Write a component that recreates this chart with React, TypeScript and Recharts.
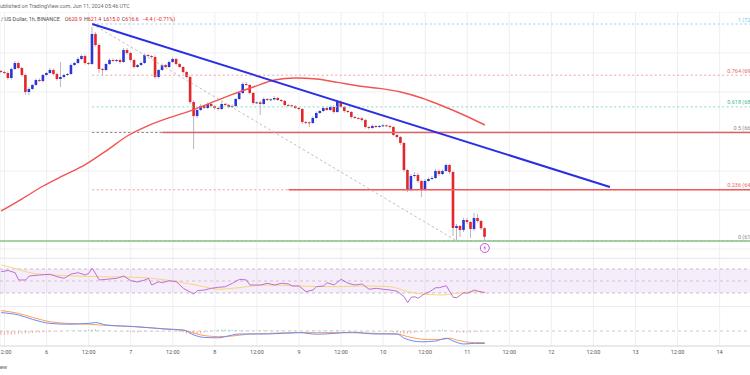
import React from "react";
import {
  ComposedChart,
  Bar,
  Line,
  Scatter,
  XAxis,
  YAxis,
  CartesianGrid,
  ReferenceLine,
  ReferenceArea,
  ReferenceDot,
  Cell,
} from "recharts";

// hourly candles, hour 0 = day 5 12:00
const firstHour = -1;
const firstOpen = 699.5;
const closes = [
  699.0, 698.5, 696.0, 700.5, 703.5, 701.0, 697.5, 689.0, 690.5, 692.5, 695.0, 694.5,
  697.5, 698.5, 700.0, 698.0, 695.5, 696.5, 697.5, 698.0, 702.5, 703.5, 705.5, 707.0,
  703.5, 703.0, 718.0, 712.5, 700.5, 700.0, 703.0, 705.0, 704.5, 705.0, 704.0, 710.0,
  708.5, 705.0, 701.5, 702.5, 703.5, 707.5, 707.0, 706.5, 696.5, 700.0, 702.5, 701.5,
  704.0, 705.5, 703.0, 701.5, 699.0, 696.5, 684.0, 677.0, 680.0, 682.0, 681.0, 683.0,
  682.0, 681.0, 680.5, 683.0, 682.5, 681.5, 682.0, 685.5, 688.5, 693.0, 692.5, 688.5,
  683.5, 683.8, 683.0, 685.5, 685.0, 685.3, 686.0, 685.0, 684.5, 682.5, 682.3, 682.0,
  681.0, 680.5, 674.0, 673.8, 673.5, 676.0, 678.5, 679.5, 681.0, 680.0, 681.5, 679.0,
  684.0, 681.5, 679.5, 679.0, 676.5, 676.0, 675.8, 675.0, 671.5, 671.0, 672.0, 671.5,
  672.0, 672.3, 672.0, 671.5, 667.5, 666.5, 663.5, 650.0, 640.0, 647.0, 647.5, 644.5,
  640.5, 644.5, 645.5, 646.0, 649.5, 648.0, 649.5, 652.5, 649.0, 621.0, 622.0, 620.0,
  625.0, 624.0, 620.5, 626.0, 624.5, 620.9, 616.6,
];
const wickUp = [
  0.5, 0.5, 0.8, 0.8, 1.0, 0.8, 0.5, 0.8, 0.8, 0.5, 0.8, 0.8,
  0.5, 0.5, 1.0, 0.8, 0.8, 7.5, 0.8, 0.5, 0.8, 0.5, 1.0, 0.8,
  0.8, 0.5, 3.5, 1.0, 0.8, 0.5, 0.5, 0.8, 0.8, 0.5, 0.8, 1.0,
  1.0, 0.5, 0.5, 0.5, 0.8, 0.8, 0.5, 0.5, 0.8, 0.5, 0.8, 0.5,
  0.8, 0.8, 0.5, 0.5, 0.5, 0.5, 0.8, 0.8, 0.5, 1.0, 0.5, 0.8,
  0.8, 0.5, 0.5, 0.8, 0.5, 0.5, 0.8, 0.5, 0.5, 1.0, 1.0, 0.5,
  0.5, 0.5, 0.8, 0.8, 0.5, 0.5, 0.8, 0.5, 0.5, 0.5, 0.5, 0.5,
  0.5, 0.5, 0.5, 0.5, 0.5, 0.8, 0.8, 0.5, 0.8, 0.5, 0.8, 0.8,
  1.0, 0.8, 0.5, 0.5, 0.5, 0.5, 0.5, 0.5, 0.5, 0.5, 0.8, 0.5,
  0.5, 0.8, 0.5, 0.5, 0.5, 0.5, 0.5, 0.5, 0.5, 1.0, 1.5, 1.0,
  0.5, 1.0, 0.8, 1.0, 1.0, 0.8, 0.8, 0.8, 0.5, 0.5, 1.0, 0.5,
  1.0, 1.0, 0.5, 2.5, 2.0, 0.5, 0.5,
];
const wickDown = [
  0.5, 0.5, 0.8, 0.8, 0.5, 0.5, 0.8, 1.5, 1.5, 0.5, 0.5, 0.5,
  0.8, 0.5, 0.5, 0.8, 0.8, 4.0, 0.8, 0.5, 0.5, 0.5, 0.5, 0.5,
  0.8, 0.5, 0.5, 0.8, 2.0, 2.5, 0.5, 0.5, 0.5, 0.5, 0.8, 0.5,
  0.8, 0.8, 0.8, 0.5, 0.5, 0.5, 0.5, 0.8, 1.0, 0.8, 0.5, 0.5,
  0.5, 0.5, 0.8, 0.5, 0.8, 0.8, 1.0, 16.5, 1.0, 0.5, 0.5, 0.5,
  0.5, 0.8, 0.8, 0.5, 0.5, 0.5, 0.5, 0.5, 0.5, 0.5, 0.5, 0.8,
  0.8, 0.5, 5.5, 0.5, 0.5, 0.5, 0.5, 0.5, 0.5, 0.8, 0.5, 0.5,
  0.5, 0.8, 1.0, 1.0, 2.0, 0.5, 0.5, 0.5, 0.5, 0.5, 0.5, 0.8,
  0.5, 0.5, 0.8, 0.5, 0.8, 0.5, 0.5, 0.8, 0.8, 0.8, 0.5, 0.5,
  0.5, 0.5, 0.5, 0.8, 0.5, 0.8, 1.0, 1.0, 1.0, 0.8, 0.8, 1.0,
  4.0, 0.8, 0.5, 0.5, 0.5, 0.8, 0.5, 0.5, 1.0, 4.0, 6.0, 3.5,
  1.0, 1.0, 4.5, 1.0, 0.8, 0.8, 1.6,
];

// moving average (red curve)
const maHours = [-1, 5, 11, 17, 23, 29, 35, 41, 47, 53, 59, 65, 71, 77, 83, 89, 95, 101, 107, 113, 119, 125, 131, 137];
const maValues = [629.5, 635.6, 642.0, 647.4, 652.7, 659.6, 667.0, 672.2, 676.2, 679.6, 683.7, 687.8, 691.5, 695.0, 696.0, 695.5, 693.8, 692.0, 690.8, 689.0, 686.0, 682.0, 677.5, 672.5];

// RSI pane
const rsiHours = [-1, 1, 3, 4, 6, 7, 10, 13, 15, 17, 19, 21, 23, 24, 25, 26, 27, 29, 32, 34, 36, 38, 40, 41, 42, 44, 45, 47, 49, 51, 54, 55, 57, 59, 61, 63, 65, 67, 69, 70, 73, 75, 77, 79, 81, 82, 84, 86, 88, 89, 91, 92, 94, 96, 98, 100, 102, 104, 106, 108, 110, 112, 114, 115, 116, 117, 118, 120, 121, 123, 124, 126, 128, 129, 131, 132, 134, 135, 137];
const rsiValues = [65.5, 67.5, 63.8, 51.7, 51.7, 58.3, 60, 61.2, 57.2, 54.5, 61.7, 63.8, 60, 62.8, 71.2, 61.7, 51.7, 52.8, 54.5, 58.3, 50.5, 48.3, 51.7, 54.5, 43.3, 48.8, 47.2, 50.5, 48.8, 37.8, 28.3, 33.8, 35, 37.8, 39.5, 40.5, 46.2, 52.8, 51.7, 43.3, 43.3, 46.2, 43.3, 46.2, 45, 41.7, 41.7, 32.2, 35, 40.5, 41.7, 47.2, 43.3, 52.8, 46.2, 43.3, 45, 36.2, 37.8, 36.2, 35, 33, 23.8, 13.8, 22.8, 23.8, 21.2, 29.5, 31.2, 38.8, 38.8, 42.2, 22.8, 22.2, 30.5, 29.5, 35, 33.3, 30.5];
const rsiMaHours = [-1, 4, 8, 18, 27, 37, 46, 56, 61, 65, 75, 84, 94, 103, 110, 115, 120, 125, 129, 134, 137];
const rsiMaValues = [76.7, 69.5, 62.8, 58.8, 57.2, 56.2, 51.7, 41.7, 36.2, 37.8, 43.3, 41.7, 40.5, 41.7, 40.5, 32.2, 27.8, 26.7, 29.5, 32.2, 31.2];

// MACD pane
const macdHours = [-1, 4, 8, 13, 18, 24, 26, 29, 37, 46, 51, 54, 57, 61, 63, 67, 75, 84, 89, 94, 99, 106, 112, 114, 119, 123, 126, 128, 131, 134, 137];
const macdValues = [4.6, 4.0, 2.9, 1.9, 1.7, 1.9, 2.1, 1.5, 1.1, 0.5, 0.25, -1, -1.6, -1.7, -1.4, -0.75, -0.75, -0.4, -0.8, -0.6, -0.3, -0.75, -0.75, -1.8, -2.7, -2.5, -1.8, -2.5, -3.25, -3.1, -3.1];
const signalHours = [-1, 4, 8, 13, 18, 24, 27, 37, 46, 52, 56, 61, 65, 70, 75, 84, 94, 106, 112, 115, 120, 125, 127, 129, 134, 137];
const signalValues = [5.1, 4.4, 3.4, 2.3, 1.9, 1.7, 1.5, 1.1, 0.5, 0, -1, -1.4, -1.25, -0.75, -0.6, -0.4, -0.4, -0.6, -0.75, -1.4, -2.1, -2.1, -1.8, -2.25, -2.9, -2.9];
const histValues = [
  -1.0, -1.0, -0.9, -0.9, -0.8, -0.75, -0.7, -0.6, -0.55, -0.5, -0.4, -0.35,
  -0.3, -0.25, -0.2, -0.15, -0.1, -0.1, -0.05, 0.05, 0.1, 0.1, 0.15, 0.2,
  0.25, 0.3, 0.4, 0.35, 0.2, 0.1, 0.05, 0.05, -0.05, -0.1, -0.1, -0.15,
  -0.2, -0.25, -0.3, -0.3, -0.25, -0.2, -0.15, -0.1, -0.15, -0.1, -0.05, -0.05,
  -0.1, -0.1, -0.15, -0.2, -0.3, -0.6, -0.8, -0.9, -0.8, -0.6, -0.4, -0.2,
  0.1, 0.2, 0.3, 0.35, 0.35, 0.3, 0.3, 0.25, 0.2, 0.2, 0.15, 0.15,
  0.1, 0.1, 0.15, 0.2, 0.2, 0.15, 0.15, 0.1, 0.1, 0.1, 0.15, 0.1,
  0.1, 0.05, -0.05, -0.1, 0.05, 0.1, 0.15, 0.15, 0.2, 0.15, 0.2, 0.2,
  0.25, 0.2, 0.1, 0.05, -0.05, -0.05, -0.05, -0.1, -0.1, -0.15, -0.1, -0.1,
  -0.1, -0.1, -0.15, -0.2, -0.3, -0.4, -0.55, -0.7, -0.65, -0.55, -0.45, -0.3,
  -0.2, -0.1, 0.05, 0.15, 0.25, 0.3, 0.3, 0.2, 0.05, -0.2, -0.35, -0.35,
  -0.35, -0.3, -0.3, -0.25, -0.2, -0.2, -0.15,
];

const timeLabels = ["12:00", "6", "12:00", "7", "12:00", "8", "12:00", "9", "12:00", "10", "12:00", "11", "12:00", "12", "12:00", "13", "12:00", "14"];
const gridPrices = [728.5, 718.5, 708.5, 698.8, 689, 679, 669.3, 659.5, 649.5, 640, 630, 620.5, 610.5];

// fibonacci drawing: from the swing high to the swing low
const fibStartHour = 25;
const fibLabelHour = 216.4;
const fibHigh = 723;
const fibLow = 614.5;
const fibRatios = [1, 0.764, 0.618, 0.5, 0.236, 0];
const trendLine = [{ x: 25, y: 723 }, { x: 172.7, y: 641.5 }];
const fibDiagonal = [{ x: 25, y: 723 }, { x: 129, y: 614.5 }];
const supportLines = [{ from: 45, price: 668.75 }, { from: 81, price: 640.1 }];
const greenLevel = 614.5;
const signalMark = { h: 137, price: 611 };

const UP = "#2a36d8";
const DOWN = "#e3262a";
const GRID = "#efeff2";
const X_DOMAIN = [-1.3124, 226.93];
const dayTicks = timeLabels.map((_, k) => k * 12);
const FONT = "Roboto, sans-serif";

const fibColors: Record<string, { line: string; text: string }> = {
  "1": { line: "#93d1f0", text: "#7cc0e6" },
  "0.764": { line: "#f3a0a0", text: "#e06a6a" },
  "0.618": { line: "#88d8be", text: "#48bb92" },
  "0.5": { line: "#9c7f8c", text: "#8a8a8a" },
  "0.236": { line: "#f29a9a", text: "#e56a6a" },
  "0": { line: "#b8b8b8", text: "#8a8a8a" },
};

const fibLevels = fibRatios.map((r) => ({
  ratio: String(r),
  price: fibLow + r * (fibHigh - fibLow),
}));

const candles = closes.map((close, i) => {
  const open = i === 0 ? firstOpen : closes[i - 1];
  return {
    h: firstHour + i,
    open,
    close,
    high: Math.max(open, close) + wickUp[i],
    low: Math.min(open, close) - wickDown[i],
  };
});

const maByHour = new Map(maHours.map((h, i) => [h, maValues[i]]));
const priceData = candles.map((c) => ({ ...c, ma: maByHour.get(c.h) ?? null }));

const rsiByHour = new Map(rsiHours.map((h, i) => [h, rsiValues[i]]));
const rsiMaByHour = new Map(rsiMaHours.map((h, i) => [h, rsiMaValues[i]]));
const rsiData = candles.map((c) => ({
  h: c.h,
  rsi: rsiByHour.get(c.h) ?? null,
  rsiMa: rsiMaByHour.get(c.h) ?? null,
}));

const macdByHour = new Map(macdHours.map((h, i) => [h, macdValues[i]]));
const signalByHour = new Map(signalHours.map((h, i) => [h, signalValues[i]]));
const macdData = candles.map((c, i) => ({
  h: c.h,
  hist: histValues[i],
  macd: macdByHour.get(c.h) ?? null,
  signal: signalByHour.get(c.h) ?? null,
}));

const fibLabelData = fibLevels.map((f) => ({ h: fibLabelHour, p: f.price, ratio: f.ratio }));

const Candle = (props: any) => {
  const { x, y, width, height, payload } = props;
  if (!payload) return null;
  const { open, close, high, low } = payload;
  const top = Math.min(y, y + height);
  const h = Math.abs(height);
  const k = high > low ? h / (high - low) : 0;
  const yO = top + (high - open) * k;
  const yC = top + (high - close) * k;
  const cx = x + width / 2;
  const bodyTop = Math.min(yO, yC);
  const bodyH = Math.max(Math.abs(yC - yO), 0.9);
  return (
    <g>
      <line x1={cx} x2={cx} y1={top} y2={top + h} stroke="#a4a4b0" strokeWidth={0.8} />
      <rect x={cx - 1.3} y={bodyTop} width={2.6} height={bodyH} fill={close >= open ? UP : DOWN} />
    </g>
  );
};

const FibLabel = (props: any) => {
  const { cx, cy, payload } = props;
  if (cx == null || !payload) return null;
  const c = fibColors[payload.ratio];
  return (
    <text x={cx} y={cy - 2.5} textAnchor="end" fontSize={5.5} fill={c.text} fontFamily={FONT}>
      {`${payload.ratio} (${payload.p.toFixed(2)})`}
    </text>
  );
};

const SignalIcon = (props: any) => {
  const { cx, cy } = props;
  return (
    <g>
      <circle cx={cx} cy={cy} r={4.5} fill="#fff" stroke="#c657d6" strokeWidth={1} />
      <path
        d={`M${cx + 0.7} ${cy - 2.8} L${cx - 1.5} ${cy + 0.3} L${cx} ${cy + 0.3} L${cx - 0.7} ${cy + 2.8} L${cx + 1.5} ${cy - 0.4} L${cx} ${cy - 0.4} Z`}
        fill="#c657d6"
      />
    </g>
  );
};

const PricePane = () => (
  <ComposedChart width={800} height={246} data={priceData} margin={{ top: 0, right: 0, bottom: 0, left: 0 }}>
    <CartesianGrid stroke={GRID} strokeWidth={1} />
    <XAxis type="number" dataKey="h" domain={X_DOMAIN} ticks={dayTicks} hide allowDataOverflow />
    <YAxis domain={[606, 729]} ticks={gridPrices} hide allowDataOverflow />
    {fibLevels.map((f) => (
      <ReferenceLine
        key={f.ratio}
        segment={[{ x: fibStartHour, y: f.price }, { x: fibLabelHour, y: f.price }]}
        stroke={fibColors[f.ratio].line}
        strokeDasharray="2 2.5"
        strokeWidth={1}
      />
    ))}
    {supportLines.map((s) => (
      <ReferenceLine
        key={s.price}
        segment={[{ x: s.from, y: s.price }, { x: fibLabelHour, y: s.price }]}
        stroke="#f25a5a"
        strokeWidth={1.6}
      />
    ))}
    <ReferenceLine
      segment={[{ x: fibStartHour, y: fibLevels[3].price }, { x: fibLabelHour, y: fibLevels[3].price }]}
      stroke={fibColors["0.5"].line}
      strokeDasharray="2 2.5"
      strokeWidth={0.8}
    />
    <ReferenceLine y={greenLevel} stroke="#80c683" strokeWidth={1.5} />
    <ReferenceLine segment={fibDiagonal} stroke="#b5b5b5" strokeDasharray="2.5 2.5" strokeWidth={0.9} />
    <Line
      dataKey="ma"
      type="monotone"
      stroke="#f05454"
      strokeWidth={1.4}
      dot={false}
      activeDot={false}
      connectNulls
      isAnimationActive={false}
    />
    <Bar dataKey={(d: any) => [d.low, d.high]} barSize={3} shape={Candle} isAnimationActive={false} />
    <ReferenceLine segment={trendLine} stroke="#2b2fe3" strokeWidth={2} />
    <Scatter data={fibLabelData} dataKey="p" shape={FibLabel} isAnimationActive={false} />
    <ReferenceDot x={signalMark.h} y={signalMark.price} r={4} shape={SignalIcon} />
  </ComposedChart>
);

const RsiPane = () => (
  <ComposedChart width={800} height={48} data={rsiData} margin={{ top: 0, right: 0, bottom: 0, left: 0 }}>
    <CartesianGrid stroke={GRID} horizontal={false} />
    <XAxis type="number" dataKey="h" domain={X_DOMAIN} ticks={dayTicks} hide allowDataOverflow />
    <YAxis domain={[8.33, 88.33]} hide allowDataOverflow />
    <ReferenceArea y1={30} y2={70} fill="#a64fd0" fillOpacity={0.1} stroke="none" />
    <ReferenceLine y={70} stroke="#b9b3bd" strokeDasharray="3 3" strokeWidth={0.8} />
    <ReferenceLine y={50} stroke="#c3bcc7" strokeDasharray="3 3" strokeWidth={0.8} />
    <ReferenceLine y={30} stroke="#b9b3bd" strokeDasharray="3 3" strokeWidth={0.8} />
    <Line dataKey="rsiMa" type="monotone" stroke="#f8d67a" strokeWidth={1} dot={false} activeDot={false} connectNulls isAnimationActive={false} />
    <Line dataKey="rsi" type="linear" stroke="#bd6fd3" strokeWidth={1} dot={false} activeDot={false} connectNulls isAnimationActive={false} />
  </ComposedChart>
);

const MacdPane = () => (
  <ComposedChart width={800} height={54} data={macdData} margin={{ top: 0, right: 0, bottom: 0, left: 0 }}>
    <CartesianGrid stroke={GRID} horizontal={false} />
    <XAxis
      type="number"
      dataKey="h"
      domain={X_DOMAIN}
      ticks={dayTicks}
      interval={0}
      allowDataOverflow
      height={14}
      tickLine={false}
      tickSize={0}
      tickMargin={4}
      axisLine={{ stroke: "#d4d4d4" }}
      tick={{ fontSize: 5.5, fill: "#555", fontFamily: FONT }}
      tickFormatter={(v: number) => timeLabels[Math.round(v / 12)]}
    />
    <YAxis domain={[-3.75, 6.25]} hide allowDataOverflow />
    <ReferenceLine y={0} stroke="#bdbdbd" strokeDasharray="3 3" strokeWidth={0.8} />
    <Bar dataKey="hist" barSize={1} isAnimationActive={false}>
      {macdData.map((d) => (
        <Cell key={d.h} fill={d.hist >= 0 ? "#7fd3c4" : "#f6a3a3"} />
      ))}
    </Bar>
    <Line dataKey="signal" type="monotone" stroke="#ff9d5c" strokeWidth={1} dot={false} activeDot={false} connectNulls isAnimationActive={false} />
    <Line dataKey="macd" type="monotone" stroke="#6a8cf2" strokeWidth={1} dot={false} activeDot={false} connectNulls isAnimationActive={false} />
  </ComposedChart>
);

export default function App() {
  return (
    <div
      style={{
        position: "fixed",
        left: 0,
        top: 0,
        width: 750,
        height: 375,
        overflow: "hidden",
        background: "#fff",
        fontFamily: FONT,
      }}
    >
      <div style={{ position: "absolute", left: 0, top: 12 }}>
        <PricePane />
      </div>
      <div style={{ position: "absolute", left: 0, top: 258 }}>
        <RsiPane />
      </div>
      <div style={{ position: "absolute", left: 0, top: 306 }}>
        <MacdPane />
      </div>
      <svg width={750} height={375} style={{ position: "absolute", left: 0, top: 0, pointerEvents: "none" }}>
        <line x1={0} x2={750} y1={258.5} y2={258.5} stroke="#ececec" />
        <line x1={0} x2={750} y1={306.5} y2={306.5} stroke="#ececec" />
        <text x={0} y={8} fontSize={5.4} fill="#6b6b6b" fontFamily={FONT}>
          ublished on TradingView.com, Jun 11, 2024 05:46 UTC
        </text>
        <text x={1} y={21} fontSize={5.4} fill="#4a4a4a" fontFamily={FONT}>
          / US Dollar, 1h, BINANCE
          <tspan dx={5}>O</tspan>
          <tspan fill={DOWN}>620.9</tspan>
          <tspan dx={2}>H</tspan>
          <tspan fill={DOWN}>621.4</tspan>
          <tspan dx={2}>L</tspan>
          <tspan fill={DOWN}>615.0</tspan>
          <tspan dx={2}>C</tspan>
          <tspan fill={DOWN}>616.6</tspan>
          <tspan dx={3} fill={DOWN}>−4.4 (−0.71%)</tspan>
        </text>
        <text x={0} y={369} fontSize={5.5} fill="#555" fontFamily={FONT}>
          ew
        </text>
      </svg>
    </div>
  );
}
